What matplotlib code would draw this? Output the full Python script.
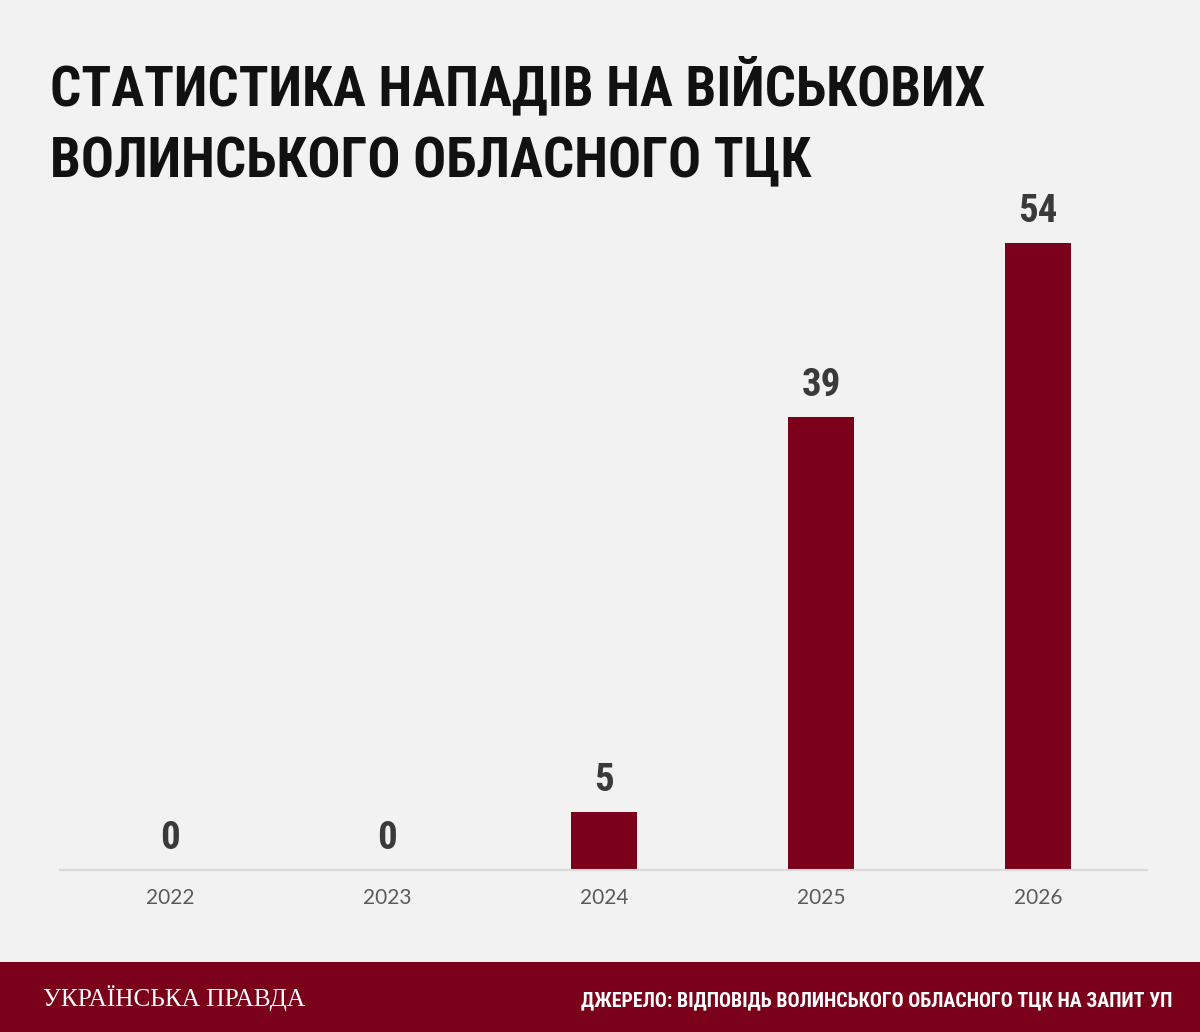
import matplotlib
matplotlib.use("Agg")
import matplotlib.pyplot as plt
from matplotlib import font_manager
from matplotlib.font_manager import FontProperties
from matplotlib.patches import Rectangle

# data
years = ["2022", "2023", "2024", "2025", "2026"]
attacks = [0, 0, 5, 39, 54]

title_lines = ["СТАТИСТИКА НАПАДІВ НА ВІЙСЬКОВИХ", "ВОЛИНСЬКОГО ОБЛАСНОГО ТЦК"]
brand = "УКРАЇНСЬКА ПРАВДА"
source = "ДЖЕРЕЛО: ВІДПОВІДЬ ВОЛИНСЬКОГО ОБЛАСНОГО ТЦК НА ЗАПИТ УП"

BG = "#f2f2f2"
RED = "#7b0019"
W, H = 1200, 1032


def condensed_bold():
    # look for a narrow bold face among installed fonts
    files = [f.fname for f in font_manager.fontManager.ttflist]
    for key in ["LiberationSansNarrow-Bold.", "RobotoCondensed-Bold.",
                "DejaVuSansCondensed-Bold.", "NotoSans-CondensedBold."]:
        for fn in files:
            if key in fn.replace(" ", ""):
                return FontProperties(fname=fn)
    return FontProperties(family="DejaVu Sans", weight="bold", stretch="condensed")


def fit_width(txt, target_px, renderer):
    bb = txt.get_window_extent(renderer)
    txt.set_fontsize(txt.get_fontsize() * target_px / bb.width)


cond = condensed_bold()

fig = plt.figure(figsize=(W / 100, H / 100), dpi=100, facecolor=BG)

ax = fig.add_axes([60 / W, 162 / H, 1087 / W, 670 / H])
ax.set_facecolor(BG)
x = range(len(years))
ax.bar(x, attacks, width=0.305, color=RED)
ax.set_xlim(-0.507, 4.502)
ax.set_ylim(0, 57.7)
ax.set_xticks(list(x))
ax.set_xticklabels(years, family="Lato", fontsize=15, color="#5a5a5a")
ax.tick_params(axis="x", length=0, pad=13)
ax.set_yticks([])
for s in ["left", "right", "top"]:
    ax.spines[s].set_visible(False)
ax.spines["bottom"].set_color("#d9d9d9")
ax.spines["bottom"].set_linewidth(1.5)

for xi, v in zip(x, attacks):
    ax.annotate(str(v), (xi, v), xytext=(0, 15), textcoords="offset points",
                ha="center", va="baseline", fontproperties=cond,
                fontsize=28, color="#3a3a3a")

# title
renderer = fig.canvas.get_renderer()
t1 = fig.text(50 / W, 1 - 105 / H, title_lines[0], fontproperties=cond,
              fontsize=50, color="#111111", va="baseline", ha="left")
fit_width(t1, 935, renderer)
t2 = fig.text(50 / W, 1 - 177 / H, title_lines[1], fontproperties=cond,
              fontsize=t1.get_fontsize(), color="#111111", va="baseline", ha="left")

# footer band
fig.patches.append(Rectangle((0, 0), 1, 70 / H, transform=fig.transFigure,
                             facecolor=RED, edgecolor="none", zorder=0))
tb = fig.text(43 / W, 1 - 1006 / H, brand, family="Liberation Serif",
              fontsize=16, color="white", va="baseline", ha="left")
fit_width(tb, 262, renderer)
ts = fig.text(1172 / W, 1 - 1006 / H, source, fontproperties=cond,
              fontsize=16, color="white", va="baseline", ha="right")
fit_width(ts, 594, renderer)

fig.savefig("out.png", dpi=100, facecolor=BG)
